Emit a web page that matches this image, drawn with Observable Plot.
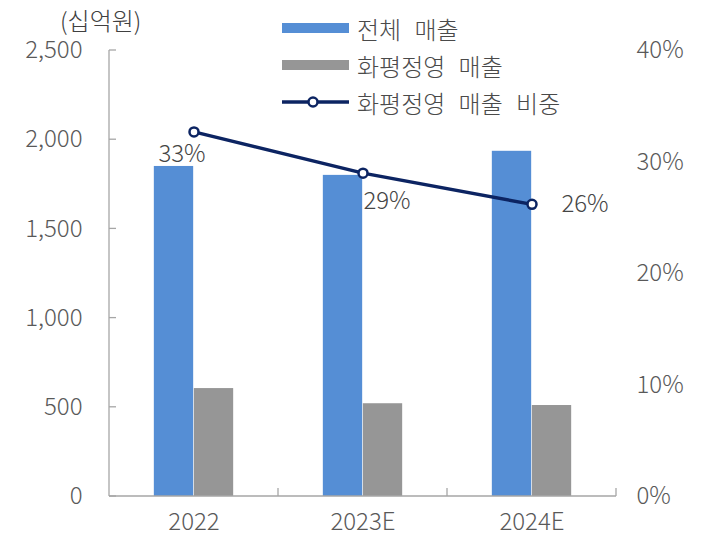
<!DOCTYPE html>
<html><head><meta charset="utf-8">
<script src="https://cdn.jsdelivr.net/npm/d3@7"></script>
<script src="https://cdn.jsdelivr.net/npm/@observablehq/plot@0.6"></script>
<style>
body{margin:0;background:#fff;font-family:"Noto Sans CJK KR","Noto Sans",sans-serif;}
#wrap{position:relative;width:702px;height:541px;overflow:hidden;}
.lg{position:absolute;left:282px;height:30px;display:flex;align-items:center;font-size:24px;font-weight:300;color:#4a4a4a;word-spacing:8px;white-space:nowrap;}
.sw{width:67px;height:10px;margin-right:8px;flex:none;}
#unit{position:absolute;left:60px;top:4px;height:30px;display:flex;align-items:center;font-size:24px;font-weight:300;color:#404040;}
</style></head><body><div id="wrap"></div>
<script>
const years = ["2022", "2023E", "2024E"];
const totalSales = [1850, 1800, 1935];
const gameSales = [605, 520, 510];
const gameShare = [32.7, 29.0, 26.2];
const shareLabels = ["33%", "29%", "26%"];
const leftTicks = [0, 500, 1000, 1500, 2000, 2500];
const rightTicks = [0, 10, 20, 30, 40];
const seriesNames = ["전체 매출", "화평정영 매출", "화평정영 매출 비중"];
const unitLabel = "(십억원)";
const colors = {total: "#558ed5", game: "#969696", line: "#0c2462"};

const W = 702, H = 541, mL = 108, mR = 85, mT = 50, mB = 45;
const bw = (W - mL - mR) / years.length;
const barW = 40;
const k = 2500 / 40; // right-axis % -> left-axis units

const rows = years.map((y, i) => ({year: y, total: totalSales[i], game: gameSales[i], share: gameShare[i] * k, label: shareLabels[i]}));
const labelOffsets = [{dx: -12, dy: 22}, {dx: 24, dy: 28}, {dx: 53, dy: 0}];
const font = '"Noto Sans CJK KR", "Noto Sans", sans-serif';

const plot = Plot.plot({
  width: W, height: H, marginLeft: mL, marginRight: mR, marginTop: mT, marginBottom: mB,
  style: {fontFamily: font, fontSize: "24px", fontWeight: 300, color: "#595959", background: "#fff"},
  x: {domain: years, padding: 0, axis: null},
  y: {domain: [0, 2500], axis: null},
  marks: [
    Plot.barY(rows, {x: "year", y: "total", fill: colors.total, insetLeft: bw / 2 - barW, insetRight: bw / 2}),
    Plot.barY(rows, {x: "year", y: "game", fill: colors.game, insetLeft: bw / 2, insetRight: bw / 2 - barW}),
    Plot.axisY({ticks: leftTicks, anchor: "left", tickSize: 0, tickPadding: 26, tickFormat: d3.format(","), fontSize: 24, fill: "#595959", label: null}),
    Plot.axisY({ticks: rightTicks.map(p => p * k), anchor: "right", tickSize: 0, tickPadding: 19, tickFormat: v => Math.round(v / k) + "%", fontSize: 24, fill: "#595959", label: null}),
    Plot.axisX({anchor: "bottom", tickSize: 0, tickPadding: 16, fontSize: 24, fill: "#595959", label: null}),
    Plot.line(rows, {x: "year", y: "share", stroke: colors.line, strokeWidth: 3.5}),
    Plot.dot(rows, {x: "year", y: "share", r: 4.5, fill: "#fff", stroke: colors.line, strokeWidth: 2.5}),
    ...rows.map((r, i) => Plot.text([r], {x: "year", y: "share", text: "label", dx: labelOffsets[i].dx, dy: labelOffsets[i].dy, fontSize: 24, fill: "#454545"}))
  ]
});

const wrap = document.getElementById("wrap");
wrap.appendChild(plot);

// axis lines & inward ticks from the plot's scales
const xs = plot.scale("x"), ys = plot.scale("y");
const svg = d3.select(plot);
const g = svg.append("g").attr("stroke", "#a6a6a6").attr("stroke-width", 1.3);
const x0 = xs.apply(years[0]);
const x1 = xs.apply(years[years.length - 1]) + xs.bandwidth;
const y0 = ys.apply(0), yTop = ys.apply(2500);
g.append("line").attr("x1", x0).attr("x2", x0).attr("y1", yTop).attr("y2", y0);
g.append("line").attr("x1", x0).attr("x2", x1).attr("y1", y0).attr("y2", y0);
leftTicks.forEach(t => g.append("line").attr("x1", x0).attr("x2", x0 + 7).attr("y1", ys.apply(t)).attr("y2", ys.apply(t)));
years.forEach((yr) => { const xb = xs.apply(yr) + xs.bandwidth; g.append("line").attr("x1", xb).attr("x2", xb).attr("y1", y0).attr("y2", y0 - 8); });

// legend + unit label
const unit = document.createElement("div"); unit.id = "unit"; unit.textContent = unitLabel; wrap.appendChild(unit);
const centers = [28, 65, 102];
seriesNames.forEach((name, i) => {
  const d = document.createElement("div"); d.className = "lg"; d.style.top = (centers[i] - 15) + "px";
  let sw;
  if (i < 2) sw = `<div class="sw" style="background:${i === 0 ? colors.total : colors.game}"></div>`;
  else sw = `<svg width="67" height="22" style="margin-right:8px;flex:none"><line x1="0" x2="67" y1="11" y2="11" stroke="${colors.line}" stroke-width="3.5"/><circle cx="31" cy="11" r="4.5" fill="#fff" stroke="${colors.line}" stroke-width="2.5"/></svg>`;
  d.innerHTML = sw + `<span>${name}</span>`;
  wrap.appendChild(d);
});
</script>
</body></html>
